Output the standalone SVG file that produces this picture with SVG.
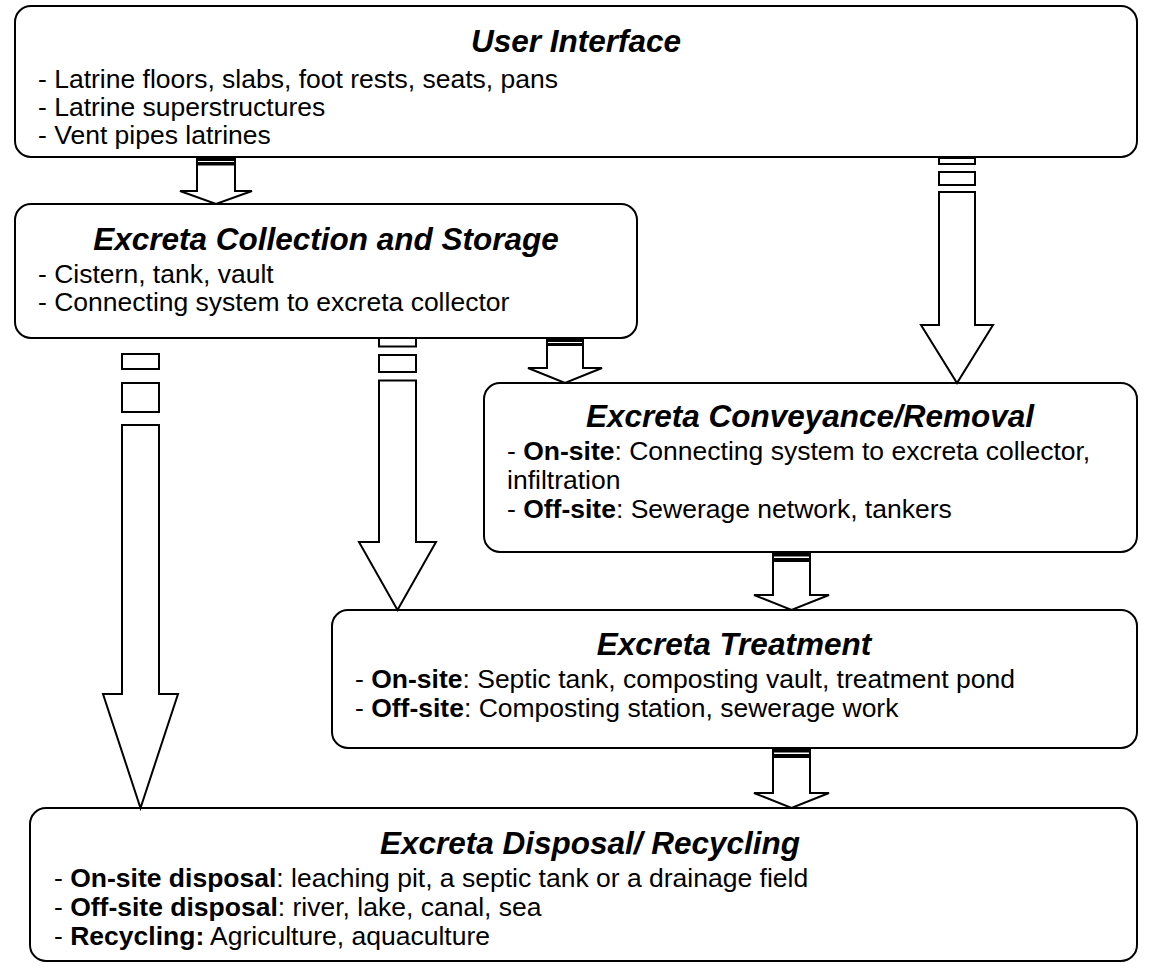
<svg xmlns="http://www.w3.org/2000/svg" width="1150" height="970" viewBox="0 0 1150 970">
<style>
.box{fill:#fff;stroke:#000;stroke-width:2}
.arr{fill:#fff;stroke:#000;stroke-width:2;stroke-linejoin:miter}
.t{font-family:"Liberation Sans",Arial,sans-serif;font-size:31.5px;font-weight:bold;font-style:italic;text-anchor:middle;fill:#000}
.b{font-family:"Liberation Sans",Arial,sans-serif;font-size:26.5px;fill:#000}
.k{font-weight:bold}
</style>
<rect width="1150" height="970" fill="#fff"/>
<g id="n1">
<rect class="box" x="15" y="6" width="1122" height="151" rx="16"/>
<text class="t" x="576" y="52">User Interface</text>
<text class="b" x="38" y="88">- Latrine floors, slabs, foot rests, seats, pans</text>
<text class="b" x="38" y="116">- Latrine superstructures</text>
<text class="b" x="38" y="144">- Vent pipes latrines</text>
</g>
<g id="n2">
<rect class="box" x="15" y="204" width="622" height="134" rx="16"/>
<text class="t" x="326" y="250">Excreta Collection and Storage</text>
<text class="b" x="38" y="283">- Cistern, tank, vault</text>
<text class="b" x="38" y="311">- Connecting system to excreta collector</text>
</g>
<g id="n3">
<rect class="box" x="484" y="383" width="653" height="169" rx="16"/>
<text class="t" x="810" y="427">Excreta Conveyance/Removal</text>
<text class="b" x="507" y="460">- <tspan class="k">On-site</tspan>: Connecting system to excreta collector,</text>
<text class="b" x="507" y="489">infiltration</text>
<text class="b" x="507" y="518">- <tspan class="k">Off-site</tspan>: Sewerage network, tankers</text>
</g>
<g id="n4">
<rect class="box" x="332" y="610" width="805" height="138" rx="16"/>
<text class="t" x="734" y="655">Excreta Treatment</text>
<text class="b" x="355" y="688">- <tspan class="k">On-site</tspan>: Septic tank, composting vault, treatment pond</text>
<text class="b" x="355" y="717">- <tspan class="k">Off-site</tspan>: Composting station, sewerage work</text>
</g>
<g id="n5">
<rect class="box" x="30" y="808" width="1107" height="153" rx="16"/>
<text class="t" x="590" y="854">Excreta Disposal/ Recycling</text>
<text class="b" x="54" y="887">- <tspan class="k">On-site disposal</tspan>: leaching pit, a septic tank or a drainage field</text>
<text class="b" x="54" y="916">- <tspan class="k">Off-site disposal</tspan>: river, lake, canal, sea</text>
<text class="b" x="54" y="945">- <tspan class="k">Recycling:</tspan> Agriculture, aquaculture</text>
</g>
<g id="connectors">
<rect class="arr" x="197" y="157" width="38" height="1.5"/>
<rect class="arr" x="197" y="160" width="38" height="3"/>
<polygon class="arr" points="197,164.5 235,164.5 235,191 252,191 216,204 180,191 197,191"/>
<rect class="arr" x="939" y="158" width="36" height="6"/>
<rect class="arr" x="939" y="172" width="36" height="13"/>
<polygon class="arr" points="939,192 975,192 975,325 993,325 957,383 921,325 939,325"/>
<rect class="arr" x="547" y="338" width="36" height="1.5"/>
<rect class="arr" x="547" y="341" width="36" height="3"/>
<polygon class="arr" points="547,345 583,345 583,368 602,368 565,383 528,368 547,368"/>
<rect class="arr" x="379" y="338" width="37" height="8.5"/>
<rect class="arr" x="379" y="355" width="37" height="17"/>
<polygon class="arr" points="379,380.5 416,380.5 416,542 436,542 397.5,610 359,542 379,542"/>
<rect class="arr" x="122" y="354" width="37" height="15"/>
<rect class="arr" x="122" y="383" width="37" height="29"/>
<polygon class="arr" points="122,425 159,425 159,694 178,694 140.5,808 103,694 122,694"/>
<rect class="arr" x="773" y="552" width="37" height="2"/>
<rect class="arr" x="773" y="555.5" width="37" height="3.5"/>
<polygon class="arr" points="773,561 810,561 810,595 829,595 791.5,610 754,595 773,595"/>
<rect class="arr" x="773" y="748" width="37" height="2"/>
<rect class="arr" x="773" y="751.5" width="37" height="3.5"/>
<polygon class="arr" points="773,757 810,757 810,793 829,793 791.5,808 754,793 773,793"/>
</g>
</svg>
